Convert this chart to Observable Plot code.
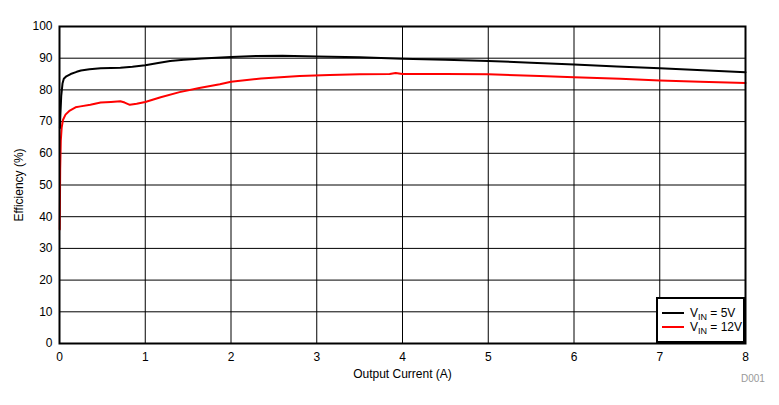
<!DOCTYPE html>
<html>
<head>
<meta charset="utf-8">
<script src="https://cdn.jsdelivr.net/npm/d3@7"></script>
<script src="https://cdn.jsdelivr.net/npm/@observablehq/plot@0.6"></script>
<style>
  html, body { margin: 0; padding: 0; background: #fff; }
  #wrap { position: relative; width: 779px; height: 405px; font-family: "Liberation Sans", Arial, sans-serif; color: #000; }
  #legend { position: absolute; left: 656px; top: 297px; width: 85px; height: 42px; border: 2px solid #000; background: #fff; font-size: 12px; overflow: hidden; }
  .row { position: absolute; left: 4px; height: 14px; display: flex; align-items: center; white-space: nowrap; }
  .sw { width: 22px; height: 2px; margin-right: 6px; flex: none; }
  sub { font-size: 9px; vertical-align: -3px; line-height: 0; }
  #code { position: absolute; left: 741px; top: 373px; font-size: 10px; color: #999; }
</style>
</head>
<body>
<div id="wrap"></div>
<script>
// Series: V_IN = 5V
const current5 = [0.005, 0.01, 0.02, 0.035, 0.05, 0.08, 0.13, 0.2, 0.25, 0.35, 0.48, 0.6, 0.71, 0.85, 1.0, 1.15, 1.29, 1.45, 1.66, 2.0, 2.3, 2.6, 3.0, 3.5, 4.0, 4.5, 5.0, 5.5, 6.0, 6.5, 7.0, 7.5, 8.0];
const eff5     = [68, 72, 78, 82, 83.5, 84.3, 85.0, 85.7, 86.1, 86.5, 86.8, 86.9, 87.0, 87.3, 87.8, 88.5, 89.1, 89.5, 89.9, 90.4, 90.7, 90.8, 90.5, 90.3, 89.8, 89.5, 89.1, 88.6, 88.0, 87.4, 86.8, 86.2, 85.6];
// Series: V_IN = 12V
const current12 = [0.003, 0.008, 0.015, 0.025, 0.04, 0.07, 0.12, 0.187, 0.245, 0.36, 0.48, 0.6, 0.71, 0.76, 0.82, 0.9, 1.0, 1.18, 1.4, 1.63, 1.87, 2.0, 2.35, 2.8, 3.15, 3.5, 3.85, 3.92, 4.0, 4.5, 5.0, 5.6, 6.0, 6.54, 7.0, 7.47, 8.0];
const eff12     = [36, 55, 64, 68, 70.5, 72.2, 73.5, 74.5, 74.8, 75.3, 76.0, 76.2, 76.4, 76.0, 75.3, 75.6, 76.2, 77.7, 79.3, 80.6, 81.8, 82.6, 83.6, 84.4, 84.7, 84.9, 85.0, 85.3, 85.0, 85.0, 84.9, 84.4, 84.0, 83.5, 83.0, 82.6, 82.2];

const xTicks = [0, 1, 2, 3, 4, 5, 6, 7, 8];
const yTicks = [0, 10, 20, 30, 40, 50, 60, 70, 80, 90, 100];

const data5 = current5.map((x, i) => ({x, y: eff5[i]}));
const data12 = current12.map((x, i) => ({x, y: eff12[i]}));

const chart = Plot.plot({
  width: 779,
  height: 405,
  marginLeft: 59,
  marginRight: 34,
  marginTop: 26,
  marginBottom: 62,
  style: { fontFamily: "'Liberation Sans', Arial, sans-serif", fontSize: "12px", color: "#000", background: "#fff" },
  x: { domain: [0, 8], ticks: xTicks },
  y: { domain: [0, 100], ticks: yTicks },
  marks: [
    Plot.gridX(xTicks, { stroke: "#000", strokeOpacity: 1, strokeWidth: 1 }),
    Plot.gridY(yTicks, { stroke: "#000", strokeOpacity: 1, strokeWidth: 1 }),
    Plot.axisX(xTicks, { tickSize: 0, tickPadding: 9, fontSize: 12, label: "Output Current (A)", labelAnchor: "center", labelArrow: "none", labelOffset: 34 }),
    Plot.axisY(yTicks, { tickSize: 0, tickPadding: 7, fontSize: 12, label: "Efficiency (%)", labelAnchor: "center", labelArrow: "none", labelOffset: 45 }),
    Plot.line(data12, { x: "x", y: "y", stroke: "#ff0000", strokeWidth: 2 }),
    Plot.line(data5, { x: "x", y: "y", stroke: "#000", strokeWidth: 2 }),
    Plot.frame({ stroke: "#000", strokeWidth: 2 })
  ]
});

const wrap = document.getElementById("wrap");
wrap.appendChild(chart);
const legend = document.createElement("div");
legend.id = "legend";
legend.innerHTML =
  '<div class="row" style="top:7px"><div class="sw" style="background:#000"></div><span>V<sub>IN</sub> = 5V</span></div>' +
  '<div class="row" style="top:21px"><div class="sw" style="background:#ff0000"></div><span>V<sub>IN</sub> = 12V</span></div>';
wrap.appendChild(legend);
const code = document.createElement("div");
code.id = "code";
code.textContent = "D001";
wrap.appendChild(code);
</script>
</body>
</html>
